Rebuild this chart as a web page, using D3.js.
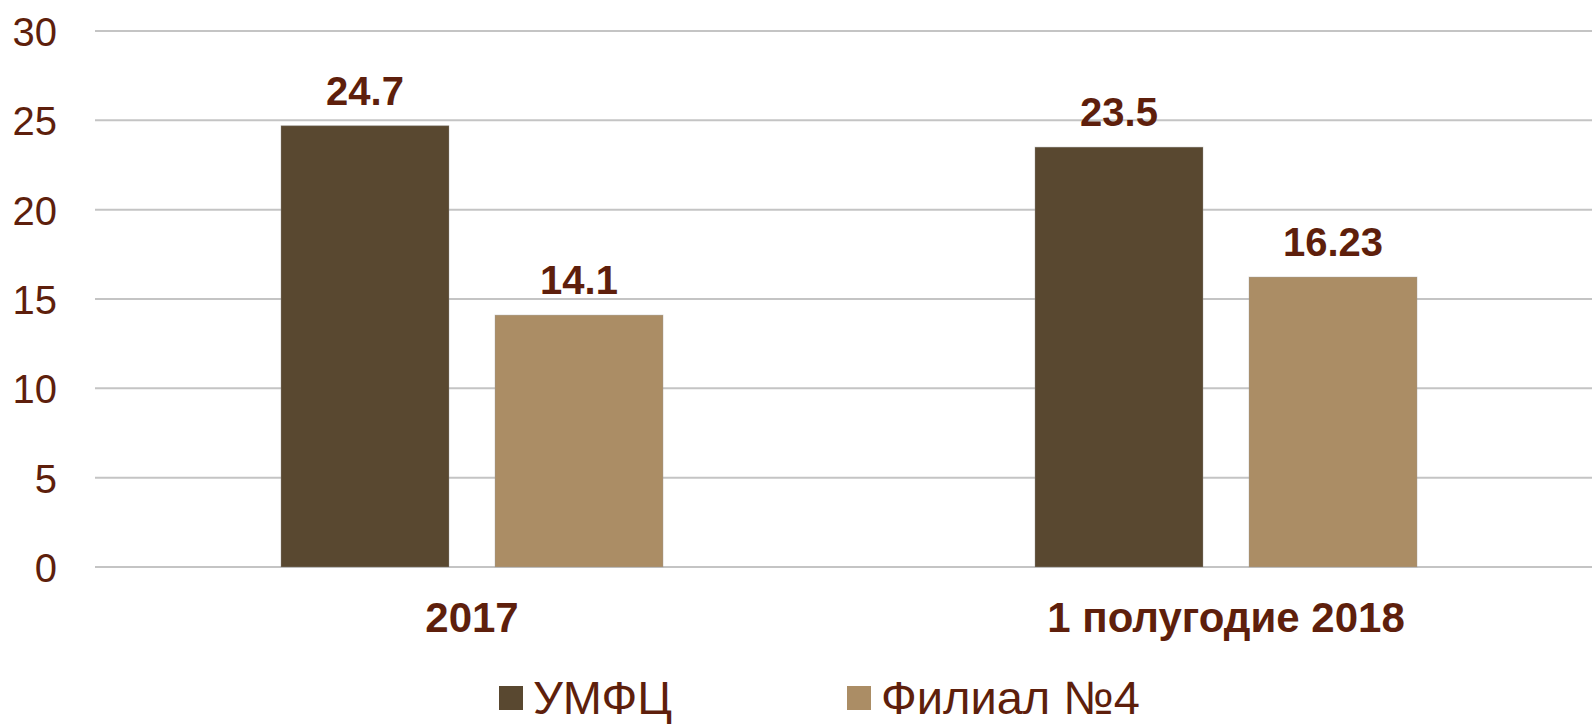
<!DOCTYPE html>
<html>
<head>
<meta charset="utf-8">
<script src="https://cdn.jsdelivr.net/npm/d3@7"></script>
<style>
  body { margin: 0; background: #fff; overflow: hidden; }
  text { font-family: "Liberation Sans", Arial, sans-serif; }
</style>
</head>
<body>
<div id="wrapper"></div>
<script>
const categories = ["2017", "1 полугодие 2018"];
const seriesNames = ["УМФЦ", "Филиал №4"];
const umfcValues = [24.7, 23.5];
const filialValues = [14.1, 16.23];
const valueLabels = [["24.7", "14.1"], ["23.5", "16.23"]];
const yTicks = [0, 5, 10, 15, 20, 25, 30];
const colors = ["#594830", "#AB8D65"];
const textColor = "#5E1F0C";

const data = categories.map((c, i) => ({
    category: c,
    values: [umfcValues[i], filialValues[i]],
    labels: valueLabels[i]
}));

const dimensions = {
    width: 1592,
    height: 724,
    margins: { top: 31, right: -11, bottom: 157, left: 95 }
};
dimensions.boundedWidth =
    dimensions.width - dimensions.margins.left - dimensions.margins.right;
dimensions.boundedHeight =
    dimensions.height - dimensions.margins.top - dimensions.margins.bottom;

const wrapper = d3.select("#wrapper")
    .append("svg")
    .attr("width", dimensions.width)
    .attr("height", dimensions.height);

const bounds = wrapper.append("g")
    .attr("transform", `translate(${dimensions.margins.left}, ${dimensions.margins.top})`);

// scales
const xScale = d3.scaleBand()
    .domain(categories)
    .range([0, dimensions.boundedWidth]);

const xInner = d3.scaleBand()
    .domain(seriesNames)
    .range([0, xScale.bandwidth()])
    .paddingInner(0.215)
    .paddingOuter(0.869);

const yScale = d3.scaleLinear()
    .domain([0, 30])
    .range([dimensions.boundedHeight, 0]);

// gridlines
bounds.append("g")
    .selectAll("line")
    .data(yTicks)
    .enter()
    .append("line")
    .attr("x1", 0)
    .attr("x2", dimensions.boundedWidth)
    .attr("y1", d => yScale(d))
    .attr("y2", d => yScale(d))
    .attr("stroke", "#C4C4C4")
    .attr("stroke-width", 2);

// y axis labels
const yAxis = bounds.append("g")
    .call(d3.axisLeft(yScale).tickValues(yTicks).tickSize(0).tickPadding(38));
yAxis.select(".domain").remove();
yAxis.selectAll("text")
    .attr("fill", textColor)
    .attr("dy", "0.36em")
    .style("font-size", "40px")
    .style("font-family", "'Liberation Sans', Arial, sans-serif");

// bars
const groups = bounds.selectAll(".group")
    .data(data)
    .enter()
    .append("g")
    .attr("transform", d => `translate(${xScale(d.category)}, 0)`);

groups.selectAll("rect")
    .data(d => d.values.map((v, i) => ({ name: seriesNames[i], value: v, label: d.labels[i] })))
    .enter()
    .append("rect")
    .attr("x", d => xInner(d.name))
    .attr("y", d => yScale(d.value))
    .attr("width", xInner.bandwidth())
    .attr("height", d => yScale(0) - yScale(d.value))
    .attr("fill", (d, i) => colors[i])
    .attr("stroke", "#9a9a9a")
    .attr("stroke-opacity", 0.35)
    .attr("stroke-width", 1);

groups.selectAll(".val")
    .data(d => d.values.map((v, i) => ({ name: seriesNames[i], value: v, label: d.labels[i] })))
    .enter()
    .append("text")
    .attr("class", "val")
    .attr("x", d => xInner(d.name) + xInner.bandwidth() / 2)
    .attr("y", d => yScale(d.value) - 21)
    .attr("text-anchor", "middle")
    .attr("fill", textColor)
    .style("font-size", "40px")
    .style("font-weight", "bold")
    .text(d => d.label);

// x axis labels
const xAxis = bounds.append("g")
    .attr("transform", `translate(0, ${dimensions.boundedHeight})`)
    .call(d3.axisBottom(xScale).tickSize(0).tickPadding(0));
xAxis.select(".domain").remove();
xAxis.selectAll("text")
    .attr("y", 65)
    .attr("dy", 0)
    .attr("fill", textColor)
    .style("font-size", "42px")
    .style("font-weight", "bold")
    .style("font-family", "'Liberation Sans', Arial, sans-serif");

// legend
const legendX = [499, 847];
const legend = wrapper.append("g")
    .selectAll("g")
    .data(seriesNames)
    .enter()
    .append("g")
    .attr("transform", (d, i) => `translate(${legendX[i]}, 686)`);

legend.append("rect")
    .attr("width", 24)
    .attr("height", 24)
    .attr("fill", (d, i) => colors[i]);

legend.append("text")
    .attr("x", 34)
    .attr("y", 28)
    .attr("fill", textColor)
    .style("font-size", "47px")
    .text(d => d);
</script>
</body>
</html>
